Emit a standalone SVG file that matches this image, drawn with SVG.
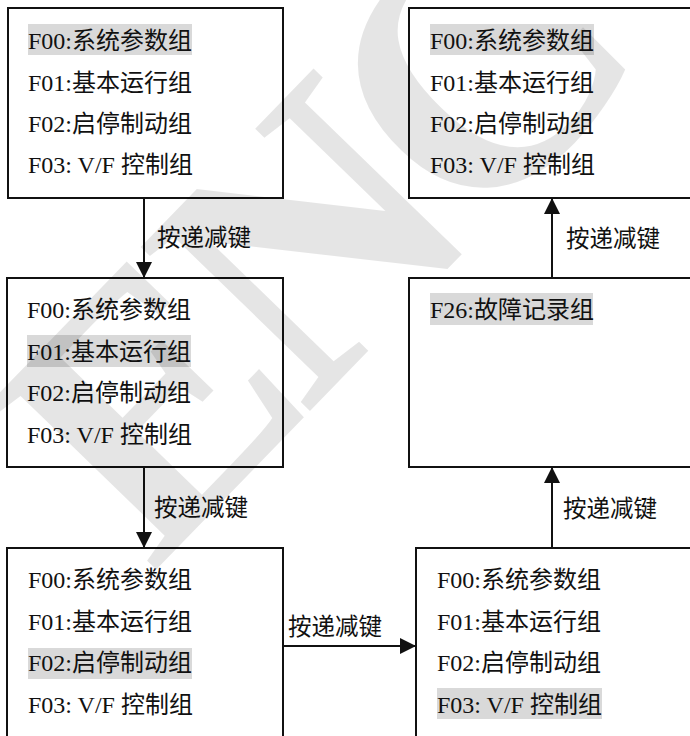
<svg xmlns="http://www.w3.org/2000/svg" width="690" height="736" viewBox="0 0 690 736">
<style>
.bg{fill:#fff}
.box{fill:none;stroke:#111;stroke-width:2}
.hl{fill:#d9d9d9}
.t{font-family:"Liberation Serif","Noto Sans CJK SC",serif;font-size:24px;fill:#111}
.lb{font-family:"Liberation Serif","Noto Sans CJK SC",serif;font-size:23.5px;fill:#111}
.ln{fill:none;stroke:#111;stroke-width:2}
.wm{font-family:"Liberation Serif",serif;font-size:360px;font-weight:bold;letter-spacing:-20px;fill:#000;fill-opacity:0.1}
</style>
<defs>
<marker id="ah" markerUnits="userSpaceOnUse" markerWidth="16" markerHeight="16" refX="16" refY="8" orient="auto">
<path d="M0,0 L16,8 L0,16 z" fill="#111"/>
</marker>
</defs>
<rect class="bg" x="0" y="0" width="690" height="736"/>
<g id="node1">
<rect class="box" x="8" y="8" width="275" height="190"/>
<rect class="hl" x="28" y="24" width="164" height="31"/>
<text class="t" x="28" y="49">F00:系统参数组</text>
<text class="t" x="28" y="91">F01:基本运行组</text>
<text class="t" x="28" y="132">F02:启停制动组</text>
<text class="t" x="28" y="173">F03: V/F 控制组</text>
</g>
<g id="node2">
<rect class="box" x="7" y="278" width="276" height="189"/>
<rect class="hl" x="27" y="335" width="164" height="32"/>
<text class="t" x="27" y="318">F00:系统参数组</text>
<text class="t" x="27" y="360">F01:基本运行组</text>
<text class="t" x="27" y="401">F02:启停制动组</text>
<text class="t" x="27" y="443">F03: V/F 控制组</text>
</g>
<g id="node3">
<rect class="box" x="7" y="548" width="276" height="200"/>
<rect class="hl" x="28" y="648" width="164" height="31"/>
<text class="t" x="28" y="588">F00:系统参数组</text>
<text class="t" x="28" y="630">F01:基本运行组</text>
<text class="t" x="28" y="671">F02:启停制动组</text>
<text class="t" x="28" y="713">F03: V/F 控制组</text>
</g>
<g id="node4">
<rect class="box" x="416" y="548" width="290" height="200"/>
<rect class="hl" x="437" y="688" width="165" height="31"/>
<text class="t" x="437" y="588">F00:系统参数组</text>
<text class="t" x="437" y="630">F01:基本运行组</text>
<text class="t" x="437" y="671">F02:启停制动组</text>
<text class="t" x="437" y="713">F03: V/F 控制组</text>
</g>
<g id="node5">
<rect class="box" x="409" y="278" width="297" height="189"/>
<rect class="hl" x="430" y="293" width="163" height="32"/>
<text class="t" x="430" y="318">F26:故障记录组</text>
</g>
<g id="node6">
<rect class="box" x="409" y="8" width="297" height="190"/>
<rect class="hl" x="430" y="24" width="164" height="31"/>
<text class="t" x="430" y="49">F00:系统参数组</text>
<text class="t" x="430" y="91">F01:基本运行组</text>
<text class="t" x="430" y="132">F02:启停制动组</text>
<text class="t" x="430" y="173">F03: V/F 控制组</text>
</g>
<g id="connectors">
<line class="ln" x1="144" y1="198" x2="144" y2="278" marker-end="url(#ah)"/>
<line class="ln" x1="144" y1="467" x2="144" y2="548" marker-end="url(#ah)"/>
<line class="ln" x1="283" y1="646" x2="416" y2="646" marker-end="url(#ah)"/>
<line class="ln" x1="552" y1="548" x2="552" y2="467" marker-end="url(#ah)"/>
<line class="ln" x1="552" y1="278" x2="552" y2="198" marker-end="url(#ah)"/>
<text class="lb" x="157" y="246">按递减键</text>
<text class="lb" x="154" y="516">按递减键</text>
<text class="lb" x="288" y="635">按递减键</text>
<text class="lb" x="563" y="517">按递减键</text>
<text class="lb" x="566" y="247">按递减键</text>
</g>
<text class="wm" x="152" y="574" transform="rotate(-45.9 152 574)">ENC</text>
</svg>
